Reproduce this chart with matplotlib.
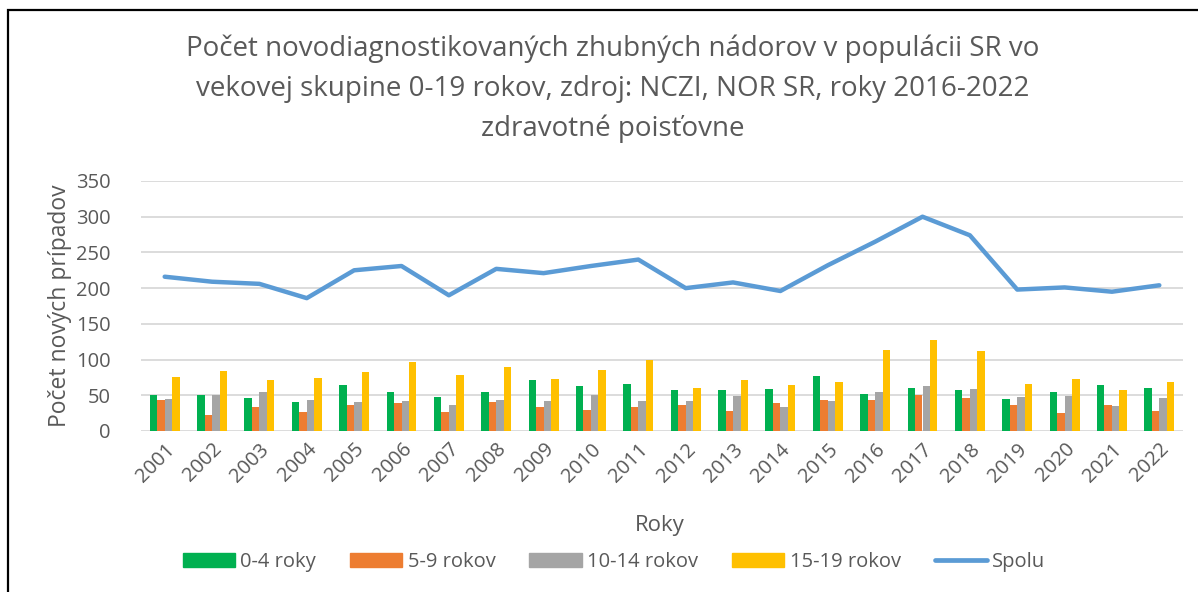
import matplotlib.pyplot as plt
import numpy as np
from matplotlib.patches import Rectangle
from matplotlib.lines import Line2D

plt.rcParams['font.family'] = ['Open Sans', 'DejaVu Sans']

# udaje
roky = [str(r) for r in range(2001, 2023)]
skup_0_4 = [51, 51, 46, 40, 64, 54, 48, 54, 72, 63, 66, 58, 58, 59, 77, 52, 60, 57, 45, 54, 64, 60]
skup_5_9 = [43, 23, 33, 26, 36, 39, 26, 40, 33, 30, 33, 37, 28, 39, 43, 44, 51, 46, 37, 25, 37, 28]
skup_10_14 = [45, 50, 54, 44, 40, 42, 36, 43, 42, 51, 42, 42, 49, 33, 42, 54, 63, 59, 47, 49, 35, 46]
skup_15_19 = [75, 84, 71, 74, 83, 96, 78, 90, 73, 85, 99, 60, 72, 64, 68, 114, 127, 112, 66, 73, 57, 68]
spolu = [216, 209, 206, 186, 225, 231, 190, 227, 221, 231, 240, 200, 208, 196, 232, 265, 300, 274, 198, 201, 195, 204]

farby = ['#00b050', '#ed7d31', '#a5a5a5', '#ffc000']
nazvy = ['0-4 roky', '5-9 rokov', '10-14 rokov', '15-19 rokov']
text_c = '#595959'

fig = plt.figure(figsize=(11.98, 5.92), dpi=100, facecolor='white')
ax = fig.add_axes([141/1198, 1 - 431/592, (1183 - 141)/1198, 250/592])

x = np.arange(len(roky))
w = 0.158
for i, (vals, c) in enumerate(zip([skup_0_4, skup_5_9, skup_10_14, skup_15_19], farby)):
    ax.bar(x + (i - 1.5) * w, vals, width=w, color=c, zorder=2)
ax.plot(x, spolu, color='#5b9bd5', lw=3.2, zorder=3, solid_capstyle='round')

ax.set_xlim(-0.5, len(roky) - 0.5)
ax.set_ylim(0, 350)
ax.set_yticks(range(0, 351, 50))
ax.grid(axis='y', color='#d9d9d9', lw=1.3, zorder=0)
for s in ax.spines.values():
    s.set_visible(False)
ax.tick_params(length=0, colors=text_c, labelsize=14.5)
ax.tick_params(axis='y', pad=22)
ax.set_xticks(x)
ax.set_xticklabels(roky, rotation=45, ha='right', va='top', rotation_mode='anchor')
ax.tick_params(axis='x', pad=6)

fig.text(60/1198, 1 - 306/592, 'Počet nových prípadov', rotation=90, ha='center', va='center',
         fontsize=16.5, color=text_c)
fig.text(660/1198, 1 - 525/592, 'Roky', ha='center', va='center', fontsize=16, color=text_c)

fig.text(613/1198, 1 - 89/592,
         'Počet novodiagnostikovaných zhubných nádorov v populácii SR vo\n'
         'vekovej skupine 0-19 rokov, zdroj: NCZI, NOR SR, roky 2016-2022\n'
         'zdravotné poisťovne',
         ha='center', va='center', fontsize=20, color=text_c, linespacing=1.55)

handles = [Rectangle((0, 0), 1, 1, color=c) for c in farby]
handles.append(Line2D([0], [0], color='#5b9bd5', lw=3.4, solid_capstyle='round'))
fig.legend(handles, nazvy + ['Spolu'], loc='center', bbox_to_anchor=(614/1198, 1 - 562/592),
           ncol=5, frameon=False, fontsize=14.5, labelcolor=text_c, handlelength=2.6,
           handleheight=0.75, columnspacing=1.7, handletextpad=0.25)

# ramik
fig.patches.append(Rectangle((8/1198, -0.1), 1.2, 1 - 10/592 + 0.1, transform=fig.transFigure,
                             fill=False, edgecolor='black', lw=1.6))

plt.savefig('out.png', dpi=100, facecolor='white')
